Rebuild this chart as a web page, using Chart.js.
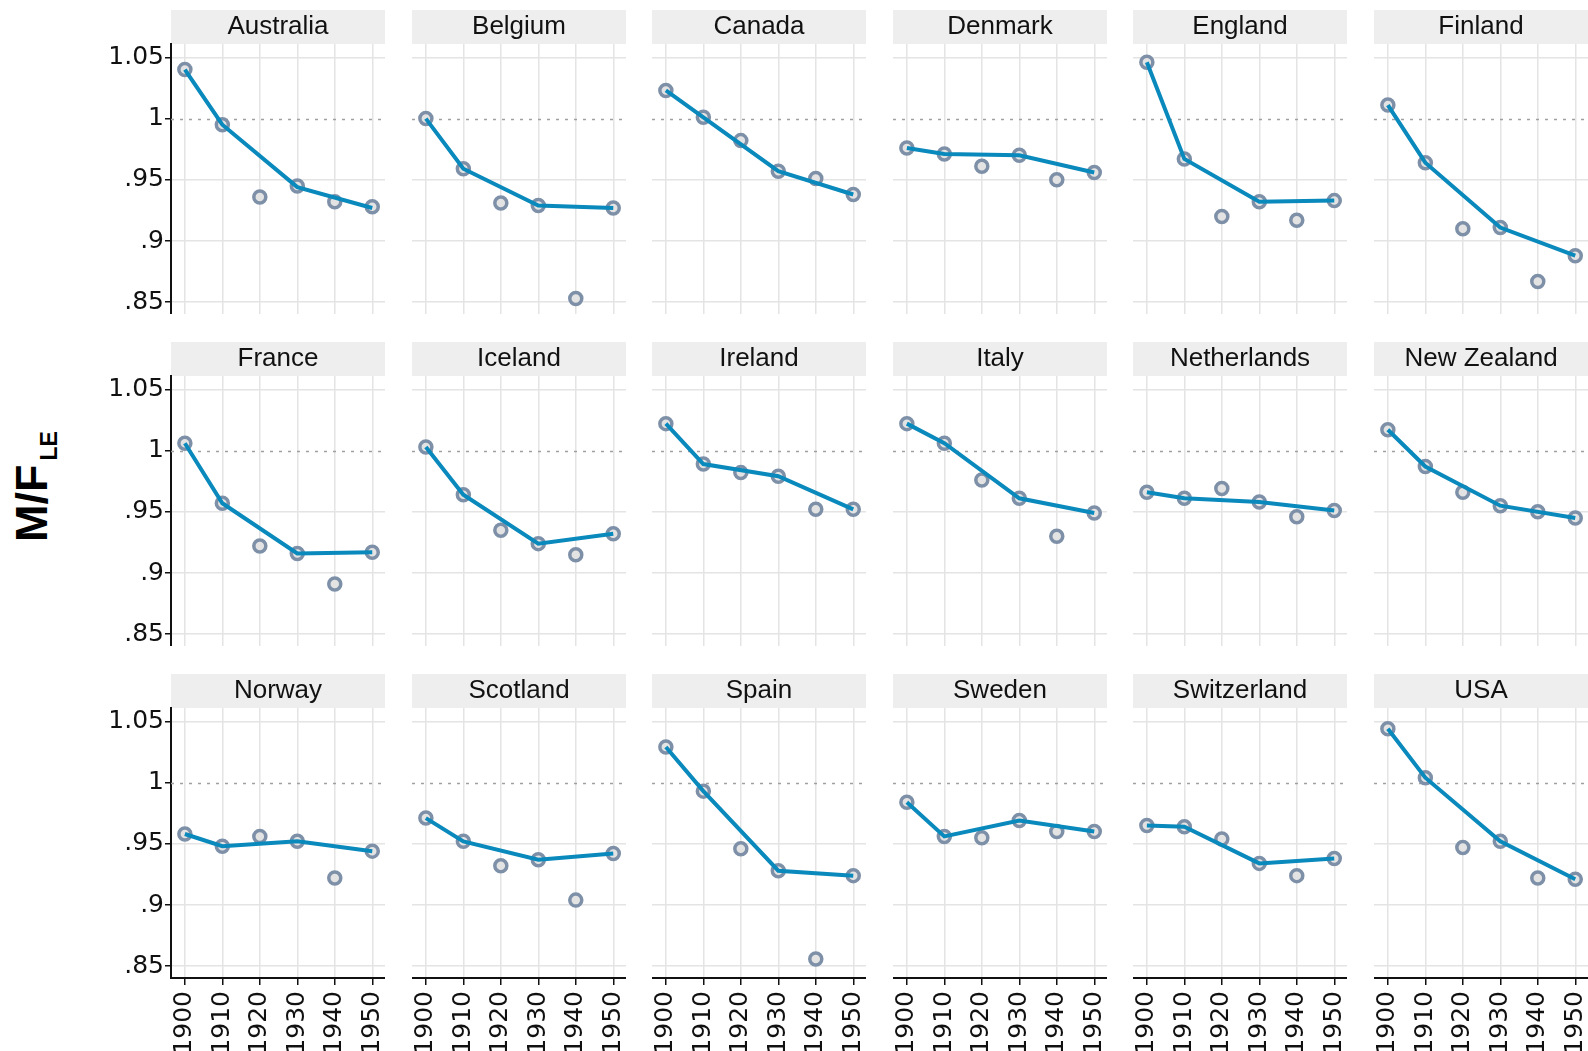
<!DOCTYPE html>
<html>
<head>
<meta charset="utf-8">
<script src="https://cdn.jsdelivr.net/npm/chart.js@4.4.1/dist/chart.umd.min.js"></script>
<style>
html, body { margin:0; padding:0; background:#fff; overflow:hidden; width:1588px; height:1051px; }
.panel { position:absolute; }
#ylab { position:absolute; left:10px; top:542px; height:44px; line-height:44px; white-space:nowrap;
  transform-origin:0 0; transform:rotate(-90deg); font-family:"Liberation Sans", Arial, sans-serif;
  font-weight:bold; font-size:45px; color:#000; }
#ylab sub { font-size:23px; line-height:0; vertical-align:-10px; margin-left:4px; }
</style>
</head>
<body>
<div id="ylab">M/F<sub>LE</sub></div>
<script>
// ---- data ----
const years = [1900, 1910, 1920, 1930, 1940, 1950];
const xTickLabels = ['1900', '1910', '1920', '1930', '1940', '1950'];
const yTickValues = [0.85, 0.9, 0.95, 1, 1.05];
const yTickLabels = ['.85', '.9', '.95', '1', '1.05'];
const countries = ['Australia', 'Belgium', 'Canada', 'Denmark', 'England', 'Finland',
  'France', 'Iceland', 'Ireland', 'Italy', 'Netherlands', 'New Zealand',
  'Norway', 'Scotland', 'Spain', 'Sweden', 'Switzerland', 'USA'];

const ptsAustralia   = [1.040, 0.995, 0.936, 0.945, 0.932, 0.928];
const lineAustralia  = [1.040, 0.995, null, 0.944, null, 0.927];
const ptsBelgium     = [1.000, 0.959, 0.931, 0.929, 0.853, 0.927];
const lineBelgium    = [1.000, 0.959, null, 0.929, null, 0.927];
const ptsCanada      = [1.023, 1.001, 0.982, 0.957, 0.951, 0.938];
const lineCanada     = [1.023, 1.001, null, 0.957, null, 0.938];
const ptsDenmark     = [0.976, 0.971, 0.961, 0.970, 0.950, 0.956];
const lineDenmark    = [0.976, 0.971, null, 0.970, null, 0.956];
const ptsEngland     = [1.046, 0.967, 0.920, 0.932, 0.917, 0.933];
const lineEngland    = [1.046, 0.967, null, 0.932, null, 0.933];
const ptsFinland     = [1.011, 0.964, 0.910, 0.911, 0.867, 0.888];
const lineFinland    = [1.011, 0.964, null, 0.911, null, 0.888];
const ptsFrance      = [1.006, 0.957, 0.922, 0.916, 0.891, 0.917];
const lineFrance     = [1.006, 0.957, null, 0.916, null, 0.917];
const ptsIceland     = [1.003, 0.964, 0.935, 0.924, 0.915, 0.932];
const lineIceland    = [1.003, 0.964, null, 0.924, null, 0.932];
const ptsIreland     = [1.022, 0.989, 0.982, 0.979, 0.952, 0.952];
const lineIreland    = [1.022, 0.989, null, 0.979, null, 0.952];
const ptsItaly       = [1.022, 1.006, 0.976, 0.961, 0.930, 0.949];
const lineItaly      = [1.022, 1.006, null, 0.961, null, 0.949];
const ptsNetherlands = [0.966, 0.961, 0.969, 0.958, 0.946, 0.951];
const lineNetherlands= [0.966, 0.961, null, 0.958, null, 0.951];
const ptsNewZealand  = [1.017, 0.987, 0.966, 0.955, 0.950, 0.945];
const lineNewZealand = [1.017, 0.987, null, 0.955, null, 0.945];
const ptsNorway      = [0.958, 0.948, 0.956, 0.952, 0.922, 0.944];
const lineNorway     = [0.958, 0.948, null, 0.952, null, 0.944];
const ptsScotland    = [0.971, 0.952, 0.932, 0.937, 0.904, 0.942];
const lineScotland   = [0.971, 0.952, null, 0.937, null, 0.942];
const ptsSpain       = [1.029, 0.993, 0.946, 0.928, 0.856, 0.924];
const lineSpain      = [1.029, 0.993, null, 0.928, null, 0.924];
const ptsSweden      = [0.984, 0.956, 0.955, 0.969, 0.960, 0.960];
const lineSweden     = [0.984, 0.956, null, 0.969, null, 0.960];
const ptsSwitzerland = [0.965, 0.964, 0.954, 0.934, 0.924, 0.938];
const lineSwitzerland= [0.965, 0.964, null, 0.934, null, 0.938];
const ptsUSA         = [1.044, 1.004, 0.947, 0.952, 0.922, 0.921];
const lineUSA        = [1.044, 1.004, null, 0.952, null, 0.921];

const pointSeries = [ptsAustralia, ptsBelgium, ptsCanada, ptsDenmark, ptsEngland, ptsFinland,
  ptsFrance, ptsIceland, ptsIreland, ptsItaly, ptsNetherlands, ptsNewZealand,
  ptsNorway, ptsScotland, ptsSpain, ptsSweden, ptsSwitzerland, ptsUSA];
const lineSeries = [lineAustralia, lineBelgium, lineCanada, lineDenmark, lineEngland, lineFinland,
  lineFrance, lineIceland, lineIreland, lineItaly, lineNetherlands, lineNewZealand,
  lineNorway, lineScotland, lineSpain, lineSweden, lineSwitzerland, lineUSA];

// ---- layout ----
const colLeft = [171, 412, 652, 893, 1133, 1374];
const rowTop = [10, 342, 674];
const plotW = 214, stripH = 34, plotH = 270, yAxisW = 80, xAxisH = 84;
const FONT = '"Liberation Sans", Arial, sans-serif';
const TICKFONT = '"DejaVu Sans", "Liberation Sans", sans-serif';

const stripBg = {
  id: 'stripBg',
  beforeDraw(chart) {
    const t = chart.titleBlock, a = chart.chartArea, ctx = chart.ctx;
    ctx.save();
    ctx.fillStyle = '#eeeeee';
    ctx.fillRect(a.left, t.top, a.right - a.left, t.height);
    ctx.restore();
  }
};
const refLine = {
  id: 'refLine',
  beforeDatasetsDraw(chart) {
    const a = chart.chartArea, ctx = chart.ctx;
    const y = Math.round(chart.scales.y.getPixelForValue(1)) + 0.5;
    ctx.save();
    ctx.strokeStyle = '#a0a0a0';
    ctx.lineWidth = 1.3;
    ctx.setLineDash([3, 6]);
    ctx.beginPath();
    ctx.moveTo(a.left, y);
    ctx.lineTo(a.right, y);
    ctx.stroke();
    ctx.restore();
  }
};
function noPad(s) { s.paddingLeft = 0; s.paddingRight = 0; s.paddingTop = 0; s.paddingBottom = 0; }

countries.forEach((name, i) => {
  const r = Math.floor(i / 6), c = i % 6;
  const firstCol = c === 0, lastRow = r === 2;
  const left = colLeft[c] - (firstCol ? yAxisW : 0);
  const width = plotW + (firstCol ? yAxisW : 0);
  const height = stripH + plotH + (lastRow ? xAxisH : 0);
  const div = document.createElement('div');
  div.className = 'panel';
  div.style.left = left + 'px';
  div.style.top = rowTop[r] + 'px';
  div.style.width = width + 'px';
  div.style.height = height + 'px';
  const cv = document.createElement('canvas');
  cv.width = width; cv.height = height;
  cv.style.width = width + 'px'; cv.style.height = height + 'px';
  div.appendChild(cv);
  document.body.appendChild(div);

  const pts = pointSeries[i], ln = lineSeries[i];
  new Chart(cv, {
    type: 'scatter',
    data: {
      datasets: [
        {
          type: 'line',
          label: name + ' trend',
          data: years.map((x, k) => ({ x: x, y: ln[k] })),
          borderColor: '#0a89bc',
          borderWidth: 4,
          pointRadius: 0,
          fill: false,
          spanGaps: true,
          tension: 0,
          order: 0
        },
        {
          type: 'scatter',
          label: name,
          data: years.map((x, k) => ({ x: x, y: pts[k] })),
          pointRadius: 6,
          pointBorderWidth: 3.5,
          pointBorderColor: '#7d90a8',
          pointBackgroundColor: '#e3e3e3',
          order: 1
        }
      ]
    },
    options: {
      responsive: false,
      animation: false,
      devicePixelRatio: 1,
      layout: { padding: 0, autoPadding: false },
      plugins: {
        legend: { display: false },
        tooltip: { enabled: false },
        title: {
          display: true,
          text: name,
          fullSize: false,
          align: 'center',
          color: '#111',
          font: { family: FONT, size: 26, weight: 'normal', lineHeight: 1 },
          padding: { top: 4, bottom: 4 }
        }
      },
      scales: {
        x: {
          type: 'linear',
          min: 1896.3,
          max: 1953.4,
          afterBuildTicks: s => { s.ticks = years.map(v => ({ value: v })); },
          afterFit: s => { s.height = lastRow ? xAxisH : 0; noPad(s); },
          grid: {
            color: '#e4e4e4',
            lineWidth: 1.5,
            drawTicks: lastRow,
            tickLength: 7,
            tickColor: '#111',
            tickWidth: 1.5
          },
          border: { display: lastRow, color: '#111', width: 2 },
          ticks: {
            display: lastRow,
            autoSkip: false,
            minRotation: 90,
            maxRotation: 90,
            padding: 6,
            color: '#111',
            font: { family: TICKFONT, size: 25 },
            callback: (v, k) => xTickLabels[k]
          }
        },
        y: {
          type: 'linear',
          min: 0.8404,
          max: 1.0609,
          afterBuildTicks: s => { s.ticks = yTickValues.map(v => ({ value: v })); },
          afterFit: s => { s.width = firstCol ? yAxisW : 0; noPad(s); },
          grid: {
            color: ctx => (ctx.tick && ctx.tick.value === 1) ? 'rgba(0,0,0,0)' : '#e4e4e4',
            lineWidth: 1.5,
            drawTicks: firstCol,
            tickLength: 6,
            tickColor: '#111',
            tickWidth: 1.5
          },
          border: { display: firstCol, color: '#111', width: 2 },
          ticks: {
            display: firstCol,
            padding: 1,
            color: '#111',
            font: { family: TICKFONT, size: 25 },
            callback: (v) => { const k = yTickValues.indexOf(v); return k >= 0 ? yTickLabels[k] : ''; }
          }
        }
      }
    },
    plugins: [stripBg, refLine]
  });
});
</script>
</body>
</html>
